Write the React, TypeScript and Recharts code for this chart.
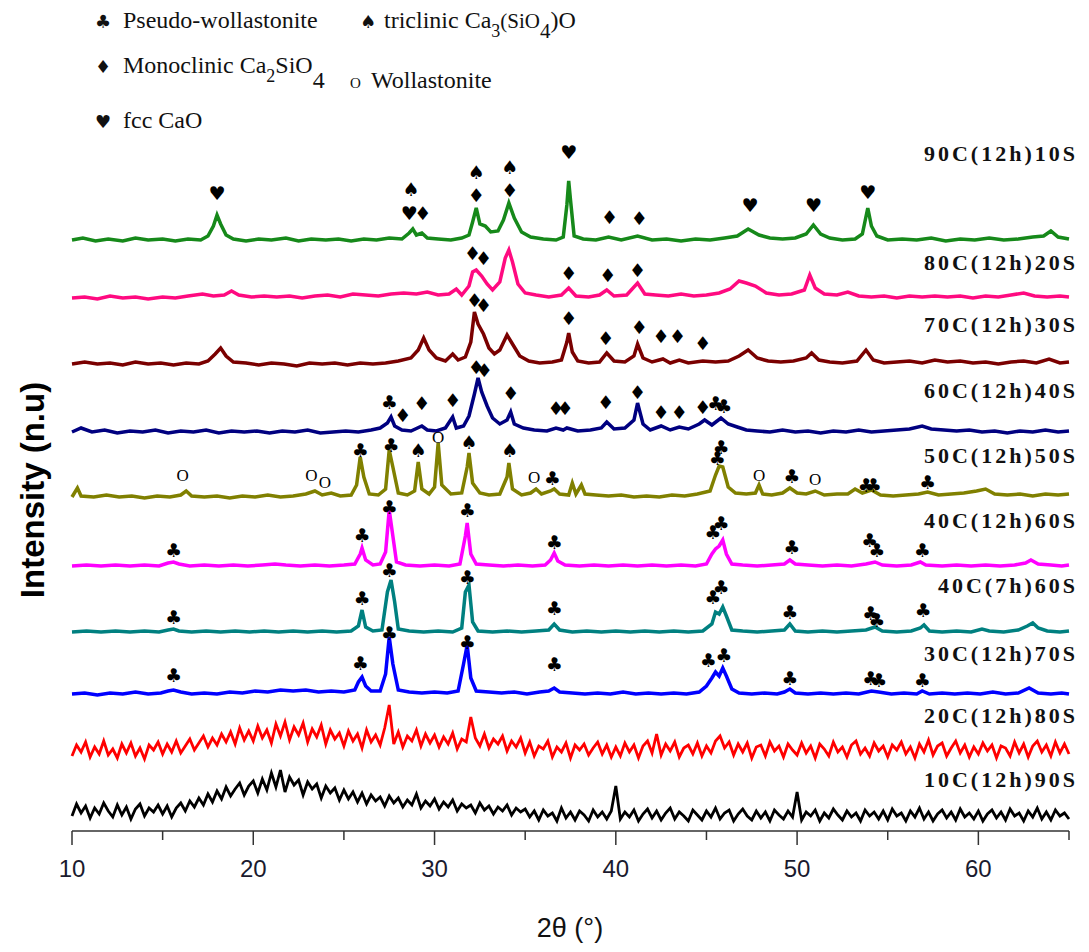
import React from 'react'
import { ComposedChart, Line, Scatter, XAxis, YAxis } from 'recharts'

// sample names, top to bottom
const sampleNames = [
  '90C(12h)10S',
  '80C(12h)20S',
  '70C(12h)30S',
  '60C(12h)40S',
  '50C(12h)50S',
  '40C(12h)60S',
  '40C(7h)60S',
  '30C(12h)70S',
  '20C(12h)80S',
  '10C(12h)90S',
]

// vertical stacking offset of each pattern (n.u)
const offsets = [591, 533, 467, 399, 334, 265, 199, 137, 81, 14]
// level of the sample name text (n.u)
const labelLevels = [670, 561, 499, 433, 368, 303, 238, 170, 108, 44]

const colors = ['#16891a', '#ff0a80', '#7a0000', '#000080', '#808000', '#ff00ff', '#008080', '#0000ff', '#ff0000', '#000000']

// [2theta, intensity above own baseline]
const p90 = [
  [10, 0], [10.6, 2], [11.3, -1], [12, 1], [12.8, -1], [13.5, 2], [14.2, 0], [15, 1], [15.7, -1], [16.4, 1], [17.1, 0],
  [17.5, 4], [17.8, 14], [18.0, 25], [18.2, 16], [18.5, 5], [18.9, 1], [19.6, -1], [20.3, 1], [21, 0], [21.8, 2],
  [22.5, -1], [23.2, 1], [24, 0], [24.7, 1], [25.4, -1], [26.1, 1], [26.8, 0], [27.5, 2], [28.2, 1], [28.6, 7],
  [28.8, 11], [29.0, 5], [29.3, 7], [29.6, 2], [30.2, 1], [30.9, 0], [31.5, 2], [31.9, 5], [32.1, 18], [32.3, 32],
  [32.5, 16], [32.8, 14], [33.1, 8], [33.5, 9], [33.8, 20], [34.1, 37], [34.4, 22], [34.8, 8], [35.3, 3], [36, 1],
  [36.7, 0], [37.1, 3], [37.3, 35], [37.4, 59], [37.5, 40], [37.7, 4], [38.2, 1], [38.9, 0], [39.6, 3], [40.3, 0],
  [41.2, 4], [42, 0], [42.8, 1], [43.6, -1], [44.4, 1], [45.2, 0], [46, 2], [46.7, 4], [47.3, 11], [47.9, 5],
  [48.5, 2], [49.2, 1], [49.9, 2], [50.5, 6], [50.9, 15], [51.3, 6], [51.8, 2], [52.5, 0], [53.2, 1], [53.6, 6],
  [53.9, 32], [54.1, 14], [54.4, 4], [55, 0], [55.8, 1], [56.6, 0], [57.4, 2], [58.2, -1], [59, 1], [59.8, 0],
  [60.6, 2], [61.4, 0], [62.2, 1], [63, 3], [63.6, 4], [64.0, 9], [64.4, 3], [65, 1],
]

const p80 = [
  [10, 0], [10.7, 1], [11.4, -1], [12.1, 2], [12.8, 0], [13.5, 1], [14.2, -1], [15, 1], [15.7, 0], [16.4, 2], [17.2, 4],
  [17.8, 2], [18.4, 3], [18.8, 7], [19.2, 3], [19.9, 1], [20.6, 2], [21.3, 1], [22, 2], [22.7, 0], [23.4, 2], [24.1, 3],
  [24.8, 1], [25.5, 4], [26.2, 3], [26.9, 2], [27.6, 4], [28.3, 5], [29, 4], [29.6, 6], [30.2, 3], [30.8, 4], [31.2, 9],
  [31.5, 3], [31.9, 12], [32.1, 26], [32.3, 28], [32.6, 22], [32.9, 14], [33.2, 8], [33.6, 16], [33.9, 40], [34.1, 48],
  [34.3, 36], [34.6, 14], [35, 5], [35.6, 3], [36.3, 1], [37, 3], [37.4, 10], [37.8, 2], [38.5, 1], [39.1, 3], [39.5, 8],
  [39.9, 2], [40.6, 3], [41.2, 15], [41.6, 4], [42.2, 3], [42.9, 2], [43.6, 4], [44.3, 2], [45, 3], [45.7, 5], [46.3, 9],
  [46.8, 17], [47.2, 15], [47.7, 12], [48.3, 5], [49, 3], [49.7, 4], [50.4, 8], [50.7, 23], [51.0, 10], [51.5, 4],
  [52.2, 3], [52.8, 6], [53.4, 2], [54.1, 1], [54.8, 2], [55.5, 0], [56.2, 2], [56.9, 1], [57.6, 2], [58.3, 1], [59, 2],
  [59.7, 0], [60.4, 2], [61.1, 1], [61.8, 3], [62.5, 5], [63.1, 2], [63.8, 1], [64.5, 2], [65, 1],
]

const p70 = [
  [10, 0], [10.7, 2], [11.4, 0], [12.1, 1], [12.8, -1], [13.5, 2], [14.2, 0], [14.9, 1], [15.6, -1], [16.3, 1], [17, 0],
  [17.5, 3], [17.9, 10], [18.2, 16], [18.5, 8], [18.9, 2], [19.6, 1], [20.3, -1], [21, 1], [21.7, 0], [22.4, -2],
  [23.1, 1], [23.8, 0], [24.5, 1], [25.2, -1], [25.9, 1], [26.6, 0], [27.3, 1], [28, 3], [28.7, 6], [29.1, 14],
  [29.4, 26], [29.7, 14], [30.1, 6], [30.6, 3], [31.0, 10], [31.3, 4], [31.7, 7], [32.0, 22], [32.2, 52], [32.4, 40],
  [32.7, 30], [33.0, 16], [33.3, 10], [33.6, 14], [34.0, 29], [34.3, 20], [34.7, 8], [35.2, 3], [35.8, 1], [36.5, 2],
  [37.0, 4], [37.3, 22], [37.4, 31], [37.6, 12], [37.9, 3], [38.5, 1], [39.1, 2], [39.5, 11], [39.9, 3], [40.5, 2],
  [41.0, 8], [41.2, 20], [41.5, 6], [42.0, 2], [42.6, 5], [43.0, 1], [43.5, 4], [44.0, 1], [44.8, 3], [45.5, 2],
  [46.2, 3], [46.8, 8], [47.3, 14], [47.8, 6], [48.4, 3], [49.1, 2], [49.8, 3], [50.5, 6], [50.8, 11], [51.2, 4],
  [51.8, 2], [52.5, 1], [53.3, 3], [53.8, 14], [54.2, 4], [54.8, 1], [55.5, 2], [56.2, 3], [56.9, 1], [57.6, 4],
  [58.3, 2], [59, 3], [59.7, 1], [60.4, 2], [61.1, 0], [61.8, 2], [62.5, 3], [63.2, 1], [63.9, 5], [64.5, 1], [65, 2],
]

const p60 = [
  [10, 0], [10.5, 4], [11.1, 0], [11.8, 2], [12.5, -1], [13.2, 1], [13.9, 0], [14.6, 2], [15.3, -1], [16, 1], [16.7, 0],
  [17.4, 2], [18.1, -1], [18.8, 1], [19.5, 0], [20.2, 1], [20.9, -1], [21.6, 1], [22.3, 0], [23, 2], [23.7, -1],
  [24.4, 0], [25.1, 1], [25.8, 0], [26.5, 2], [27.0, 4], [27.4, 9], [27.6, 15], [27.8, 6], [28.2, 2], [28.7, 1],
  [29.3, 6], [29.6, 2], [30.1, 1], [30.6, 4], [31.0, 15], [31.2, 4], [31.6, 6], [31.9, 16], [32.2, 38], [32.4, 54],
  [32.6, 40], [32.9, 26], [33.2, 14], [33.6, 8], [34.0, 12], [34.2, 20], [34.4, 8], [34.9, 4], [35.5, 2], [36.2, 1],
  [36.7, 4], [37.1, 2], [37.3, 4], [37.9, 1], [38.6, 2], [39.2, 4], [39.5, 10], [39.9, 3], [40.5, 4], [41.0, 12],
  [41.2, 29], [41.5, 8], [41.9, 2], [42.5, 6], [43.0, 2], [43.5, 5], [44.0, 3], [44.6, 8], [44.9, 12], [45.3, 7],
  [45.8, 14], [46.2, 8], [46.7, 5], [47.2, 2], [47.8, 1], [48.5, 0], [49.2, 2], [49.9, 0], [50.6, 1], [51.3, -1],
  [52, 1], [52.7, 0], [53.4, 2], [54.1, 0], [54.8, 1], [55.5, 2], [56.2, 3], [56.9, 6], [57.4, 3], [58.1, 2],
  [58.8, 1], [59.5, 2], [60.2, 0], [60.9, 1], [61.6, -1], [62.3, 1], [63, 0], [63.7, 2], [64.4, 0], [65, 1],
]

const p50 = [
  [10, 0], [10.3, 9], [10.5, 1], [11.2, 0], [11.9, 2], [12.6, 0], [13.3, 1], [14, -1], [14.7, 1], [15.4, 0], [16.0, 2],
  [16.3, 6], [16.6, 1], [17.3, 0], [18, 1], [18.7, -1], [19.4, 1], [20.1, 0], [20.8, 2], [21.5, 0], [22.2, 1],
  [22.9, 3], [23.4, 6], [23.8, 2], [24.3, 4], [24.8, 1], [25.4, 2], [25.7, 12], [25.9, 40], [26.1, 20], [26.4, 3],
  [26.9, 2], [27.3, 8], [27.5, 47], [27.7, 30], [28.0, 4], [28.5, 2], [28.9, 6], [29.1, 35], [29.3, 8], [29.7, 3],
  [30.0, 10], [30.2, 54], [30.4, 12], [30.9, 3], [31.5, 4], [31.8, 30], [31.9, 44], [32.1, 14], [32.5, 4], [33.0, 2],
  [33.6, 3], [34.0, 20], [34.1, 34], [34.3, 8], [34.8, 2], [35.3, 4], [35.6, 8], [35.9, 3], [36.4, 6], [36.6, 8],
  [36.9, 3], [37.4, 2], [37.6, 14], [37.8, 3], [38.1, 12], [38.3, 3], [38.9, 2], [39.6, 1], [40.3, 2], [41, 0],
  [41.7, 1], [42.4, 0], [43.1, 2], [43.8, 1], [44.5, 3], [45.2, 6], [45.5, 22], [45.7, 31], [45.9, 30], [46.2, 10],
  [46.6, 4], [47.2, 3], [47.7, 4], [47.9, 12], [48.1, 3], [48.6, 2], [49.2, 4], [49.6, 9], [50.0, 4], [50.5, 3],
  [51.0, 6], [51.5, 2], [52.2, 3], [52.8, 3], [53.2, 8], [53.6, 4], [54.1, 7], [54.6, 2], [55.3, 1], [56, 2],
  [56.7, 3], [57.2, 5], [57.8, 2], [58.5, 3], [59.2, 4], [59.9, 6], [60.4, 8], [60.9, 3], [61.6, 2], [62.3, 3],
  [63, 1], [63.7, 3], [64.4, 2], [65, 3],
]

const p40a = [
  [10, 0], [10.8, 1], [11.6, 0], [12.4, 1], [13.2, 0], [14, 1], [14.8, 0], [15.3, 3], [15.6, 4], [15.9, 2], [16.5, 0],
  [17.3, 1], [18.1, 0], [18.9, 1], [19.7, 0], [20.5, 1], [21.2, 2], [21.8, 1], [22.6, 0], [23.4, 1], [24.2, 0], [25, 1],
  [25.6, 2], [25.9, 12], [26.0, 18], [26.2, 6], [26.6, 1], [27.0, 2], [27.3, 14], [27.5, 56], [27.7, 30], [27.9, 4],
  [28.4, 1], [29.2, 0], [30, 1], [30.8, 0], [31.4, 2], [31.7, 30], [31.8, 43], [32.0, 12], [32.3, 2], [33, 1],
  [33.8, 0], [34.6, 1], [35.4, 0], [36.1, 1], [36.4, 6], [36.6, 13], [36.8, 5], [37.2, 1], [38, 0], [38.8, 1],
  [39.6, 0], [40.4, 1], [41.2, 0], [42, 1], [42.8, 0], [43.6, 1], [44.4, 0], [45.0, 2], [45.3, 12], [45.5, 17],
  [45.7, 20], [45.9, 26], [46.1, 12], [46.4, 2], [47, 1], [47.8, 0], [48.6, 1], [49.3, 2], [49.6, 6], [49.9, 2],
  [50.6, 1], [51.4, 0], [52.2, 1], [53, 0], [53.8, 2], [54.3, 4], [54.7, 1], [55.5, 0], [56.3, 1], [56.8, 4],
  [57.1, 1], [58, 0], [58.8, 1], [59.6, 0], [60.4, 1], [61.2, 0], [62, 1], [62.6, 3], [62.9, 6], [63.3, 2], [64, 1],
  [64.6, 0], [65, 1],
]

const p40b = [
  [10, 0], [10.8, 1], [11.6, 0], [12.4, 1], [13.2, 0], [14, 1], [14.8, 0], [15.3, 2], [15.6, 3], [15.9, 1], [16.6, 0],
  [17.4, 1], [18.2, 0], [19, 1], [19.8, 0], [20.6, 1], [21.4, 0], [22.2, 1], [23, 0], [23.8, 1], [24.6, 0], [25.4, 1],
  [25.8, 6], [26.0, 22], [26.2, 5], [26.6, 1], [27.1, 2], [27.4, 40], [27.6, 52], [27.8, 30], [28.0, 3], [28.6, 1],
  [29.4, 0], [30.2, 1], [31, 0], [31.5, 4], [31.7, 40], [31.9, 47], [32.1, 10], [32.4, 1], [33.2, 0], [34, 1],
  [34.8, 0], [35.6, 1], [36.3, 2], [36.6, 8], [36.9, 2], [37.6, 0], [38.4, 1], [39.2, 0], [40, 1], [40.8, 0],
  [41.6, 1], [42.4, 0], [43.2, 1], [44, 0], [44.8, 1], [45.3, 8], [45.5, 20], [45.7, 18], [45.9, 25], [46.1, 16],
  [46.4, 2], [47, 1], [47.8, 0], [48.6, 1], [49.3, 2], [49.6, 8], [49.9, 1], [50.6, 0], [51.4, 1], [52.2, 0], [53, 1],
  [53.8, 2], [54.3, 5], [54.7, 1], [55.5, 0], [56.3, 1], [56.8, 4], [57.0, 7], [57.3, 1], [58, 0], [58.8, 1],
  [59.6, 0], [60.2, 3], [60.6, 1], [61.4, 0], [62.2, 2], [62.7, 6], [63.0, 9], [63.3, 4], [63.8, 1], [64.5, 0], [65, 1],
]

const p30 = [
  [10, 0], [10.7, 1], [11.4, -1], [12.1, 1], [12.8, 0], [13.5, 2], [14.2, 0], [14.9, 1], [15.3, 3], [15.6, 4], [16.0, 2],
  [16.6, 0], [17.3, 1], [18, 0], [18.7, 2], [19.4, 1], [20.1, 3], [20.8, 2], [21.5, 4], [22.2, 3], [22.9, 4], [23.6, 2],
  [24.3, 3], [25.0, 2], [25.6, 4], [25.8, 12], [26.0, 17], [26.2, 8], [26.5, 3], [27.0, 3], [27.3, 20], [27.5, 57],
  [27.7, 30], [28.0, 4], [28.6, 2], [29.3, 1], [30, 2], [30.7, 1], [31.3, 3], [31.6, 30], [31.8, 49], [32.0, 16],
  [32.3, 3], [33, 2], [33.7, 1], [34.4, 2], [35.1, 0], [35.8, 2], [36.3, 3], [36.6, 6], [36.9, 2], [37.6, 1],
  [38.3, 0], [39, 1], [39.7, 0], [40.4, 2], [41.1, 0], [41.8, 1], [42.5, 0], [43.2, 1], [43.9, 0], [44.6, 2],
  [45.0, 8], [45.3, 16], [45.5, 22], [45.7, 18], [45.9, 26], [46.1, 18], [46.4, 5], [46.8, 1], [47.5, 0], [48.2, 1],
  [48.9, 0], [49.3, 2], [49.6, 5], [49.9, 1], [50.6, 0], [51.3, 1], [52, 0], [52.7, 1], [53.4, 0], [54.1, 3],
  [54.5, 2], [55.2, 0], [55.9, 1], [56.6, 0], [56.9, 3], [57.3, 0], [58, 1], [58.7, 0], [59.4, 1], [60.1, 0],
  [60.8, 2], [61.5, 0], [62.2, 1], [62.8, 6], [63.3, 1], [64, 0], [64.6, 1], [65, 0],
]

// amorphous patterns, read every 0.25 deg from 10 to 65 (one row = 5 deg)
const gridStart = 10
const gridStep = 0.25
const p20 = [
  -6, 5, -2, 8, -7, 3, -4, 9, -5, 1, -8, 6, -3, 7, -6, 2, -9, 5, 0, 8,
  -4, 6, -2, 9, -3, 4, 11, 0, 7, 14, 3, 12, 5, 16, 8, 18, 6, 22, 10, 19,
  9, 24, 12, 20, 7, 26, 14, 28, 10, 23, 15, 27, 8, 21, 13, 25, 6, 20, 11, 17,
  4, 19, 9, 16, 2, 20, 8, 15, 5, 22, 45, 6, 18, 3, 14, 9, 20, 4, 16, 7,
  15, 3, 13, 6, 17, 1, 11, 8, 33, 12, 4, 16, 2, 11, 6, 14, -1, 9, 3, 12,
  -3, 8, -6, 4, 1, 9, -7, 3, -2, 7, -8, 5, 0, 6, -5, 2, 8, -4, 5, -7,
  3, -6, 7, -2, 5, -8, 4, 9, -3, 16, -5, 6, -1, 8, -7, 2, 5, -4, 7, -6,
  4, -3, 9, 14, 2, 8, -5, 6, -2, 7, -8, 3, 5, -6, 8, -1, 4, -7, 6, 0,
  -5, 7, -3, 4, -8, 6, 1, -6, 8, -2, 3, -7, 5, 9, -4, 2, -6, 7, -1, 4,
  -7, 5, 0, 8, -4, 3, -8, 6, -2, 10, -5, 4, 7, -6, 2, 9, -3, 5, -7, 3,
  -4, 7, -1, 5, -8, 4, 2, -6, 8, -3, 6, -7, 4, 9, -2, 5, -6, 8, -3, 6,
  -4,
]
const p10 = [
  1, 13, 4, 11, -1, 9, 3, 14, 6, 0, 12, 2, 10, -2, 8, 13, 1, 9, 5, 12,
  3, 11, 0, 9, 14, 6, 16, 10, 19, 12, 23, 15, 26, 18, 30, 21, 28, 34, 22, 31,
  36, 24, 38, 27, 44, 30, 47, 25, 40, 32, 37, 22, 35, 28, 33, 19, 31, 24, 29, 17,
  27, 18, 25, 15, 24, 13, 22, 16, 20, 11, 21, 14, 19, 10, 17, 12, 23, 9, 16, 11,
  18, 8, 15, 10, 17, 6, 13, 9, 12, 4, 14, 7, 11, 3, 10, 6, 12, 2, 9, 5,
  8, 0, 6, -3, 7, 1, 4, -4, 9, -1, 5, -3, 6, 2, -4, 7, 0, 5, -2, 6,
  31, -2, 5, 0, 7, -4, 3, 8, -1, 6, -3, 4, 9, -2, 5, 1, -4, 7, 2, -3,
  6, 0, 9, -2, 4, 7, -4, 3, 8, 1, -3, 6, -1, 5, -4, 7, 2, -2, 6, 0,
  25, -3, 5, 1, 7, -4, 4, -1, 8, 2, -3, 6, 0, 4, -4, 7, 1, 5, -2, 6,
  -3, 8, 1, 4, -4, 6, 0, 9, -2, 5, -4, 3, 7, -1, 5, -3, 8, 0, 4, -2,
  6, -4, 3, 7, -1, 5, -3, 8, 1, 4, -4, 6, 0, 9, -2, 5, -3, 7, 1, 4,
  -2,
]

// phase markers: [2theta, level (n.u), symbol]
const markers = [
  [18.0, 638, '♥'], [28.7, 642, '♠'], [28.6, 618, '♥'], [29.35, 618, '♦'], [32.3, 659, '♠'], [32.3, 636, '♦'],
  [34.15, 664, '♠'], [34.15, 641, '♦'], [37.4, 679, '♥'], [39.65, 614, '♦'], [41.3, 613, '♦'], [47.4, 626, '♥'],
  [50.9, 626, '♥'], [53.9, 639, '♥'],
  [32.1, 578, '♦'], [32.7, 573, '♦'], [37.4, 558, '♦'], [39.55, 556, '♦'], [41.2, 561, '♦'],
  [32.2, 531, '♦'], [32.7, 526, '♦'], [37.4, 513, '♦'], [39.45, 493, '♦'], [41.3, 504, '♦'], [42.5, 495, '♦'],
  [43.4, 495, '♦'], [44.8, 488, '♦'],
  [32.3, 464, '♦'], [32.75, 461, '♦'], [27.5, 429, '♣'], [28.25, 416, '♦'], [29.3, 428, '♦'], [31.0, 431, '♦'],
  [34.2, 438, '♦'], [36.7, 423, '♦'], [37.2, 423, '♦'], [39.45, 429, '♦'], [41.2, 439, '♦'], [42.5, 419, '♦'],
  [43.5, 419, '♦'], [44.8, 424, '♦'], [45.5, 428, '♣'], [45.95, 425, '♣'],
  [25.9, 381, '♣'], [27.6, 386, '♣'], [29.1, 381, '♠'], [30.2, 394, 'O'], [31.9, 389, '♠'], [34.15, 381, '♠'],
  [16.1, 356, 'O'], [23.2, 356, 'O'], [23.95, 349, 'O'], [35.5, 354, 'O'], [36.5, 353, '♣'], [45.6, 373, '♣'],
  [45.8, 384, '♣'], [47.9, 356, 'O'], [49.7, 355, '♣'], [51.0, 352, 'O'], [53.8, 346, '♣'], [54.2, 346, '♣'],
  [57.2, 349, '♣'],
  [15.6, 281, '♣'], [26.0, 296, '♣'], [27.5, 324, '♣'], [31.8, 321, '♣'], [36.6, 289, '♣'], [45.35, 299, '♣'],
  [45.8, 308, '♣'], [49.7, 284, '♣'], [54.0, 291, '♣'], [54.4, 281, '♣'], [56.9, 281, '♣'],
  [15.6, 214, '♣'], [26.0, 233, '♣'], [27.5, 261, '♣'], [31.8, 254, '♣'], [36.6, 223, '♣'], [45.35, 234, '♣'],
  [45.8, 244, '♣'], [49.6, 219, '♣'], [54.05, 218, '♣'], [54.4, 211, '♣'], [56.95, 221, '♣'],
  [15.6, 156, '♣'], [25.9, 168, '♣'], [27.5, 198, '♣'], [31.8, 189, '♣'], [36.6, 167, '♣'], [45.1, 171, '♣'],
  [45.95, 176, '♣'], [49.6, 153, '♣'], [54.05, 153, '♣'], [54.5, 151, '♣'], [56.9, 151, '♣'],
]

const xTicks = [10, 15, 20, 25, 30, 35, 40, 45, 50, 55, 60, 65]

const gridProfile = (vals: number[]) => vals.map((v, i) => [gridStart + i * gridStep, v])
const profiles = [p90, p80, p70, p60, p50, p40a, p40b, p30, gridProfile(p20), gridProfile(p10)]

const seriesData = profiles.map((prof, i) => prof.map(([x, h]) => ({ x, y: offsets[i] + h })))
const markerData = markers.map(([x, y, s]) => ({ x, y, s }))
const labelData = sampleNames.map((t, i) => ({ x: 65, y: labelLevels[i], t }))

const serif = '"Liberation Serif", "Times New Roman", serif'
const sans = '"Liberation Sans", Arial, sans-serif'
const glyph = '"DejaVu Sans", sans-serif'

const XTick = (props: any) => {
  const { x, y, payload } = props
  const major = payload.value % 10 === 0
  return (
    <g>
      <line x1={x} x2={x} y1={y} y2={y + (major ? 14 : 9)} stroke="#333" strokeWidth={1.5} />
      {major && (
        <text x={x} y={y + 46} textAnchor="middle" fontSize={24} fontFamily={sans} fill="#1a1a2e">
          {payload.value}
        </text>
      )}
    </g>
  )
}

const MarkerShape = (props: any) => {
  const { cx, cy, payload } = props
  const isO = payload.s === 'O'
  return (
    <text
      x={cx}
      y={cy}
      textAnchor="middle"
      dominantBaseline="central"
      fontSize={isO ? 17 : 19}
      fontFamily={isO ? serif : glyph}
      fill="#000"
    >
      {payload.s}
    </text>
  )
}

const LabelShape = (props: any) => {
  const { cx, cy, payload } = props
  return (
    <text x={cx + 9} y={cy} textAnchor="end" fontSize={22} fontWeight="bold" fontFamily={serif} letterSpacing={3} fill="#111">
      {payload.t}
    </text>
  )
}

export default function App() {
  return (
    <div style={{ position: 'absolute', left: 0, top: 0, width: 1089, height: 952, background: '#fff' }}>
      <ComposedChart width={1089} height={952} margin={{ top: 88, right: 20, bottom: 61, left: 72 }}>
        <XAxis
          type="number"
          dataKey="x"
          domain={[10, 65]}
          ticks={xTicks}
          interval={0}
          height={60}
          tickSize={0}
          tickMargin={0}
          tickLine={false}
          tick={<XTick />}
          axisLine={{ stroke: '#333', strokeWidth: 1.5 }}
        />
        <YAxis type="number" dataKey="y" domain={[0, 743]} width={0} tick={false} tickLine={false} axisLine={{ stroke: '#333', strokeWidth: 1.5 }} />
        {seriesData.map((d, i) => (
          <Line
            key={sampleNames[i]}
            data={d}
            dataKey="y"
            type="linear"
            stroke={colors[i]}
            strokeWidth={i >= 8 ? 2.8 : 3.5}
            strokeLinejoin="miter"
            dot={false}
            activeDot={false}
            isAnimationActive={false}
          />
        ))}
        <Scatter data={markerData} dataKey="y" shape={<MarkerShape />} isAnimationActive={false} />
        <Scatter data={labelData} dataKey="y" shape={<LabelShape />} isAnimationActive={false} />
      </ComposedChart>
      <svg width={1089} height={952} style={{ position: 'absolute', left: 0, top: 0, pointerEvents: 'none' }}>
        <g fontFamily={serif} fontSize={24} fill="#111">
          <text x={95} y={28} fontFamily={glyph} fontSize={18}>♣</text>
          <text x={123} y={28}>Pseudo-wollastonite</text>
          <text x={360} y={28} fontFamily={glyph} fontSize={18}>♠</text>
          <text x={384} y={28}>
            triclinic Ca<tspan dy={9} fontSize={18}>3</tspan>
            <tspan dy={-9} fontSize={21}>(SiO</tspan>
            <tspan dy={10} fontSize={21}>4</tspan>
            <tspan dy={-10}>)O</tspan>
          </text>
          <text x={95} y={73} fontFamily={glyph} fontSize={18}>♦</text>
          <text x={123} y={73}>
            Monoclinic Ca<tspan dy={9} fontSize={18}>2</tspan>
            <tspan dy={-9}>SiO</tspan>
            <tspan dy={15}>4</tspan>
          </text>
          <text x={350} y={88} fontSize={15}>O</text>
          <text x={371} y={88}>Wollastonite</text>
          <text x={95} y={128} fontFamily={glyph} fontSize={18}>♥</text>
          <text x={123} y={128}>fcc CaO</text>
        </g>
        <text
          transform="translate(44, 490) rotate(-90)"
          textAnchor="middle"
          fontFamily={sans}
          fontWeight="bold"
          fontSize={33}
          fill="#000"
        >
          Intensity (n.u)
        </text>
        <text x={570} y={937} textAnchor="middle" fontFamily={sans} fontSize={27} fill="#111">
          2θ (°)
        </text>
      </svg>
    </div>
  )
}
